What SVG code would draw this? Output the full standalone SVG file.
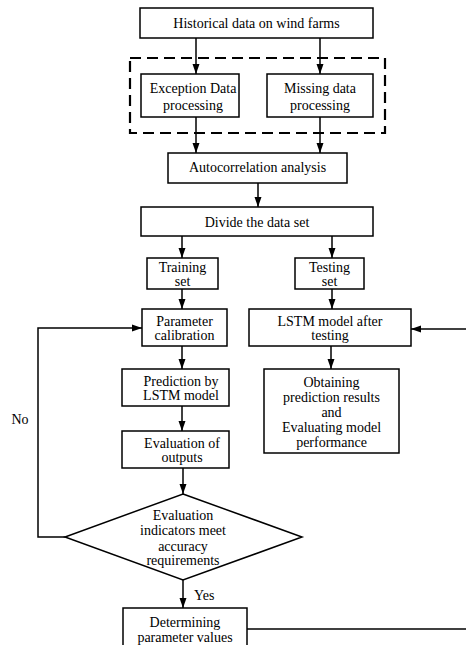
<svg xmlns="http://www.w3.org/2000/svg" width="466" height="645" viewBox="0 0 466 645">
<style>
.box{fill:#fff;stroke:#000;stroke-width:1.5}
.ln{fill:none;stroke:#000;stroke-width:1.5}
.arr{fill:none;stroke:#000;stroke-width:1.5;marker-end:url(#ah)}
text{font-family:"Liberation Serif","Times New Roman",serif;font-size:14px;fill:#000;text-anchor:middle}
</style>
<defs>
<marker id="ah" viewBox="0 0 10 10" refX="10" refY="5" markerWidth="10" markerHeight="10" markerUnits="userSpaceOnUse" orient="auto">
<path d="M0,1.5 L10,5 L0,8.5 Z" fill="#000"/>
</marker>
</defs>
<rect width="466" height="645" fill="#fff"/>
<g id="connectors">
<line class="arr" x1="196" y1="38" x2="196" y2="74"/>
<line class="arr" x1="320" y1="38" x2="320" y2="74"/>
<line class="arr" x1="196" y1="117" x2="196" y2="153"/>
<line class="arr" x1="320" y1="117" x2="320" y2="153"/>
<line class="arr" x1="258" y1="183" x2="258" y2="207"/>
<line class="arr" x1="182" y1="236" x2="182" y2="258"/>
<line class="arr" x1="332" y1="236" x2="332" y2="258"/>
<line class="arr" x1="182" y1="289" x2="182" y2="309"/>
<line class="arr" x1="332" y1="289" x2="332" y2="309"/>
<line class="arr" x1="466" y1="329" x2="411" y2="329"/>
<line class="arr" x1="182" y1="346" x2="182" y2="369"/>
<line class="arr" x1="331" y1="346" x2="331" y2="369"/>
<line class="arr" x1="182" y1="406" x2="182" y2="431"/>
<line class="arr" x1="183" y1="468" x2="183" y2="494"/>
<polyline class="arr" points="65,537 38,537 38,328 142,328"/>
<line class="arr" x1="183" y1="580" x2="183" y2="608"/>
<line class="ln" x1="247" y1="629" x2="466" y2="629"/>
<text x="20" y="424">No</text>
<text x="194" y="600" style="text-anchor:start">Yes</text>
</g>
<g id="preprocessing-group">
<rect x="130" y="58" width="255" height="75" fill="none" stroke="#000" stroke-width="2.2" stroke-dasharray="11,6"/>
</g>
<g id="historical">
<rect class="box" x="140" y="8" width="233" height="30"/>
<text x="256.5" y="28">Historical data on wind farms</text>
</g>
<g id="exception">
<rect class="box" x="141" y="74" width="98" height="43"/>
<text x="193" y="93">Exception Data</text>
<text x="193" y="110">processing</text>
</g>
<g id="missing">
<rect class="box" x="267" y="74" width="106" height="43"/>
<text x="320" y="93">Missing data</text>
<text x="320" y="110">processing</text>
</g>
<g id="autocorrelation">
<rect class="box" x="168" y="153" width="179" height="30"/>
<text x="257.5" y="172">Autocorrelation analysis</text>
</g>
<g id="divide">
<rect class="box" x="141" y="207" width="232" height="29"/>
<text x="257" y="227">Divide the data set</text>
</g>
<g id="training">
<rect class="box" x="147" y="258" width="71" height="31"/>
<text x="182.5" y="272">Training</text>
<text x="182.5" y="286">set</text>
</g>
<g id="testing">
<rect class="box" x="295" y="258" width="69" height="31"/>
<text x="329.5" y="272">Testing</text>
<text x="329.5" y="286">set</text>
</g>
<g id="param-calibration">
<rect class="box" x="142" y="309" width="85" height="37"/>
<text x="184.5" y="326">Parameter</text>
<text x="184.5" y="340">calibration</text>
</g>
<g id="lstm-after-testing">
<rect class="box" x="249" y="309" width="162" height="37"/>
<text x="330" y="326">LSTM model after</text>
<text x="330" y="340">testing</text>
</g>
<g id="prediction">
<rect class="box" x="122" y="369" width="107" height="37"/>
<text x="181" y="386">Prediction by</text>
<text x="181" y="400">LSTM model</text>
</g>
<g id="obtaining">
<rect class="box" x="264" y="369" width="135" height="84"/>
<text x="331.5" y="387">Obtaining</text>
<text x="331.5" y="402">prediction results</text>
<text x="331.5" y="417">and</text>
<text x="331.5" y="432">Evaluating model</text>
<text x="331.5" y="447">performance</text>
</g>
<g id="evaluation-outputs">
<rect class="box" x="122" y="431" width="107" height="37"/>
<text x="182" y="448">Evaluation of</text>
<text x="182" y="462">outputs</text>
</g>
<g id="decision">
<polygon class="box" points="183,494 302,537 183,580 65,537"/>
<text x="183" y="520">Evaluation</text>
<text x="183" y="535">indicators meet</text>
<text x="183" y="551">accuracy</text>
<text x="183" y="565">requirements</text>
</g>
<g id="determining">
<rect class="box" x="123" y="608" width="124" height="50"/>
<text x="185" y="627">Determining</text>
<text x="185" y="642">parameter values</text>
</g>
</svg>
